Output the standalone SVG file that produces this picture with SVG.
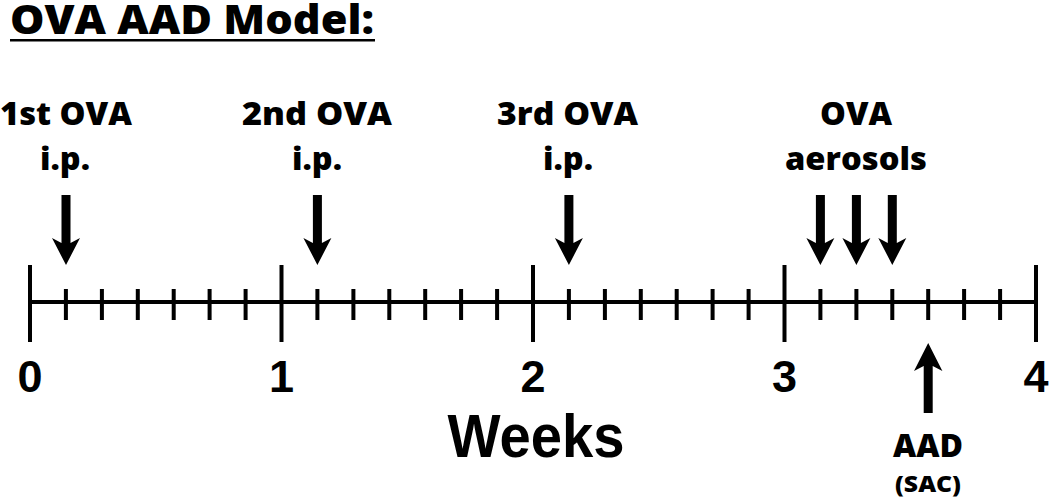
<svg xmlns="http://www.w3.org/2000/svg" width="1050" height="498" viewBox="0 0 1050 498">
<style>
.lbl{font-family:"Open Sans","Noto Sans","DejaVu Sans",sans-serif;font-weight:800;fill:#000;text-anchor:middle}
.num{font-family:"Liberation Sans",Arial,sans-serif;font-weight:bold;fill:#000;text-anchor:middle}
.ax{stroke:#000;stroke-width:4;fill:none}
.arr{fill:#000;stroke:none}
</style>
<defs>
<path id="down" d="M-4.5,195 L-4.5,243 L-14,238 L0,265 L14,238 L4.5,243 L4.5,195 Z"/>
</defs>
<rect width="1050" height="498" fill="#fff"/>
<g id="title">
<text class="lbl" x="192" y="34" font-size="40" textLength="364" lengthAdjust="spacingAndGlyphs">OVA AAD Model:</text>
<rect x="10" y="39" width="365" height="2.5" fill="#000"/>
</g>
<g id="axis">
<line class="ax" x1="30" y1="302" x2="1036" y2="302"/>
<path class="ax" d="M30,265V342M281.5,265V342M533,265V342M784.5,265V342M1036,265V342"/>
<path class="ax" d="M65.9,289V320M101.9,289V320M137.8,289V320M173.7,289V320M209.6,289V320M245.6,289V320
M317.4,289V320M353.4,289V320M389.3,289V320M425.2,289V320M461.1,289V320M497.1,289V320
M568.9,289V320M604.9,289V320M640.8,289V320M676.7,289V320M712.6,289V320M748.6,289V320
M820.4,289V320M856.4,289V320M892.3,289V320M928.2,289V320M964.1,289V320M1000.1,289V320"/>
</g>
<g id="tick-labels">
<text class="num" x="30" y="392" font-size="45">0</text>
<text class="num" x="281.5" y="392" font-size="45">1</text>
<text class="num" x="533" y="392" font-size="45">2</text>
<text class="num" x="784.5" y="392" font-size="45">3</text>
<text class="num" x="1036" y="392" font-size="45">4</text>
</g>
<g id="weeks">
<text class="num" x="536" y="457" font-size="62" textLength="177" lengthAdjust="spacingAndGlyphs">Weeks</text>
</g>
<g id="ova1">
<text class="lbl" x="66" y="125" font-size="32" textLength="132" lengthAdjust="spacingAndGlyphs">1st OVA</text>
<text class="lbl" x="65" y="170" font-size="32" textLength="50" lengthAdjust="spacingAndGlyphs">i.p.</text>
</g>
<g id="ova2">
<text class="lbl" x="317" y="125" font-size="32" textLength="150" lengthAdjust="spacingAndGlyphs">2nd OVA</text>
<text class="lbl" x="317" y="170" font-size="32" textLength="50" lengthAdjust="spacingAndGlyphs">i.p.</text>
</g>
<g id="ova3">
<text class="lbl" x="567.5" y="125" font-size="32" textLength="141" lengthAdjust="spacingAndGlyphs">3rd OVA</text>
<text class="lbl" x="568" y="170" font-size="32" textLength="50" lengthAdjust="spacingAndGlyphs">i.p.</text>
</g>
<g id="aerosols">
<text class="lbl" x="856" y="125" font-size="32" textLength="72" lengthAdjust="spacingAndGlyphs">OVA</text>
<text class="lbl" x="856" y="170" font-size="32" textLength="142" lengthAdjust="spacingAndGlyphs">aerosols</text>
</g>
<g id="aad">
<text class="lbl" x="928" y="457" font-size="32" textLength="70" lengthAdjust="spacingAndGlyphs">AAD</text>
<text class="lbl" x="928" y="492" font-size="23" textLength="66" lengthAdjust="spacingAndGlyphs">(SAC)</text>
</g>
<g id="connectors">
<use href="#down" class="arr" transform="translate(66,0)"/>
<use href="#down" class="arr" transform="translate(317.4,0)"/>
<use href="#down" class="arr" transform="translate(568.9,0)"/>
<use href="#down" class="arr" transform="translate(820.4,0)"/>
<use href="#down" class="arr" transform="translate(856.4,0)"/>
<use href="#down" class="arr" transform="translate(892.3,0)"/>
<path class="arr" d="M923.7,413 L923.7,366 L914,371 L928.2,343 L942.4,371 L932.7,366 L932.7,413 Z"/>
</g>
</svg>
